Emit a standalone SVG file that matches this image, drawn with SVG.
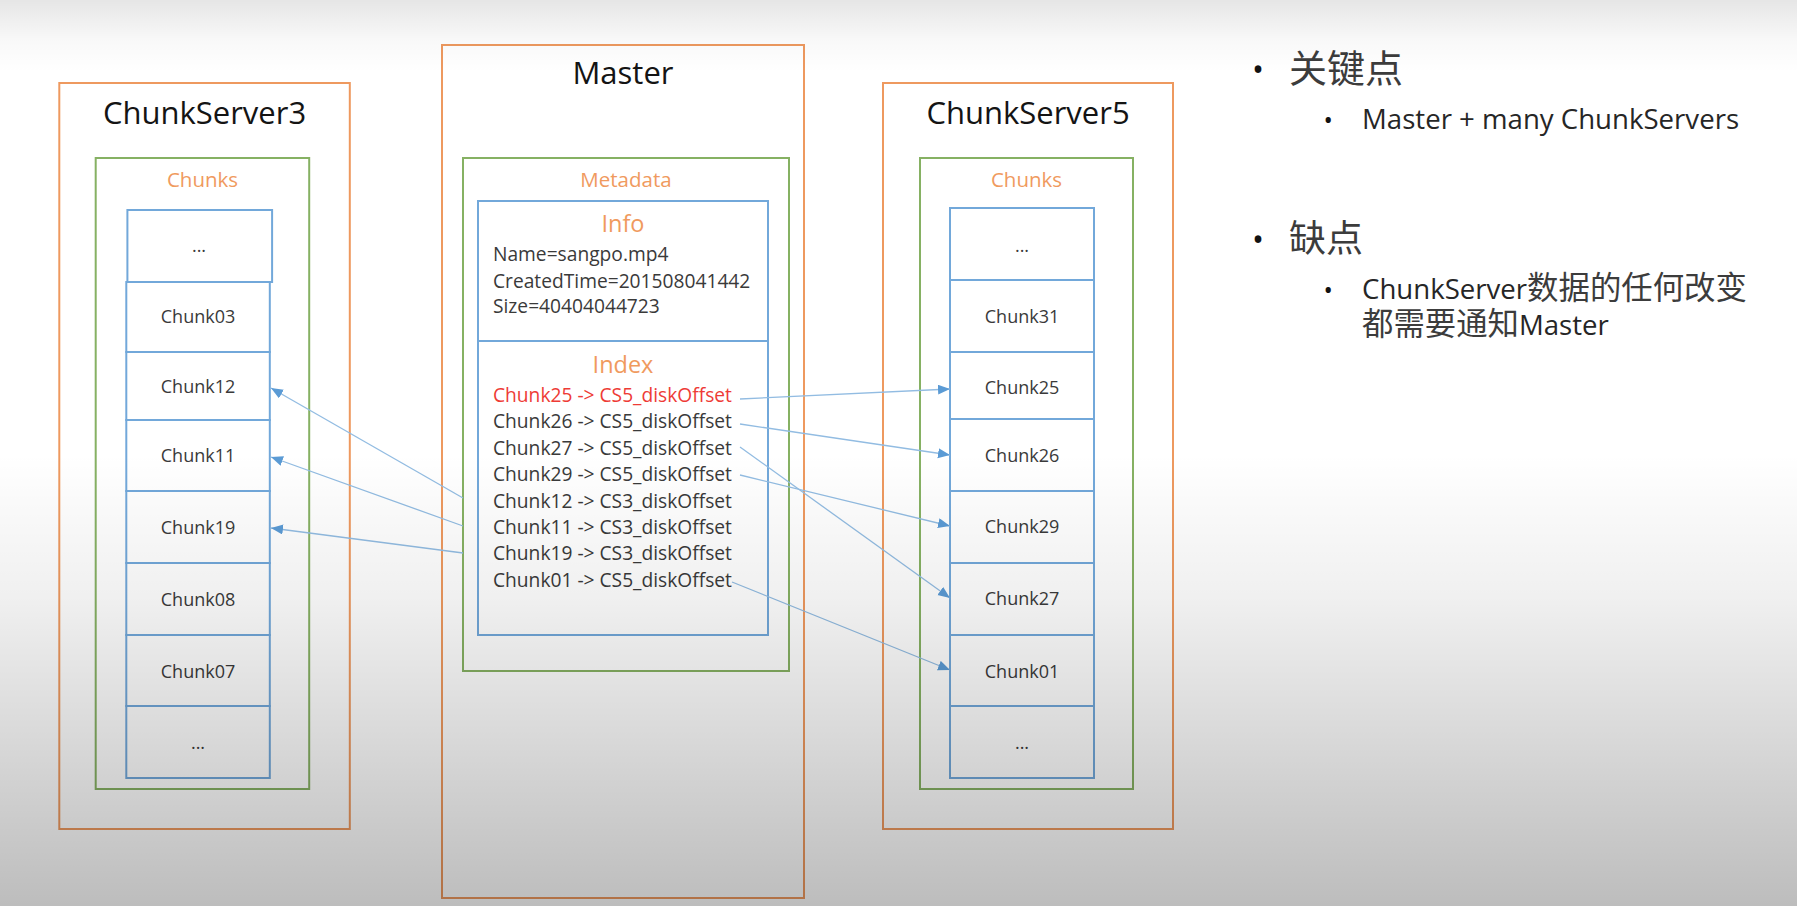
<svg xmlns="http://www.w3.org/2000/svg" width="1797" height="906" viewBox="0 0 1797 906">
<style>
.orange{fill:none;stroke:#EE995F;stroke-width:2}
.green{fill:none;stroke:#86B163;stroke-width:2}
.blue{fill:none;stroke:#72A8DA;stroke-width:2}
.title{font-family:"Open Sans",sans-serif;font-size:31px;fill:#141414;text-anchor:middle}
.sub{font-family:"Open Sans",sans-serif;font-size:20.5px;fill:#F09A5E;text-anchor:middle}
.hd{font-family:"Open Sans",sans-serif;font-size:23.5px;fill:#F09A5E;text-anchor:middle}
.cl{font-family:"Open Sans",sans-serif;font-size:18px;fill:#3A3A3A;text-anchor:middle}
.ix{font-family:"Open Sans",sans-serif;font-size:19.2px;fill:#3A3A3A}
.red{fill:#EE3B36}
.conn{stroke:#92BCE2;stroke-width:1.3;fill:none;marker-end:url(#arr)}
.note{font-family:"Open Sans","Noto Sans CJK SC",sans-serif;fill:#262626}
.cjk{font-family:"Noto Sans CJK SC",sans-serif;fill:#3C3C3C}
.bul{font-family:"Open Sans",sans-serif;fill:#111}
</style>
<defs>
<linearGradient id="shade" x1="0" y1="0" x2="0" y2="906" gradientUnits="userSpaceOnUse">
<stop offset="0" stop-color="#000" stop-opacity="0.10"/>
<stop offset="0.045" stop-color="#000" stop-opacity="0.025"/>
<stop offset="0.08" stop-color="#000" stop-opacity="0"/>
<stop offset="0.5" stop-color="#000" stop-opacity="0"/>
<stop offset="0.66" stop-color="#000" stop-opacity="0.06"/>
<stop offset="0.83" stop-color="#000" stop-opacity="0.16"/>
<stop offset="1" stop-color="#000" stop-opacity="0.26"/>
</linearGradient>
<marker id="arr" markerUnits="userSpaceOnUse" markerWidth="13" markerHeight="11" refX="12" refY="5" orient="auto" viewBox="0 0 13 11">
<path d="M0,0 L12,5 L0,10 z" fill="#5B9BD5"/>
</marker>
</defs>
<rect x="0" y="0" width="1797" height="906" fill="#FFFFFF"/>

<g id="chunkserver3">
<rect class="orange" x="59.3" y="83" width="290.5" height="746"/>
<text class="title" x="204.5" y="124">ChunkServer3</text>
<g id="cs3-chunks">
<rect class="green" x="95.7" y="158" width="213.5" height="631"/>
<text class="sub" x="202.5" y="187">Chunks</text>
<rect class="blue" x="127.4" y="210" width="144.7" height="72"/>
<rect class="blue" x="126.3" y="282" width="143.5" height="70"/>
<rect class="blue" x="126.3" y="352" width="143.5" height="68"/>
<rect class="blue" x="126.3" y="420" width="143.5" height="71"/>
<rect class="blue" x="126.3" y="491" width="143.5" height="72"/>
<rect class="blue" x="126.3" y="563" width="143.5" height="72"/>
<rect class="blue" x="126.3" y="635" width="143.5" height="71"/>
<rect class="blue" x="126.3" y="706" width="143.5" height="72"/>
<text class="cl" x="199" y="252">...</text>
<text class="cl" x="198" y="323">Chunk03</text>
<text class="cl" x="198" y="393">Chunk12</text>
<text class="cl" x="198" y="462">Chunk11</text>
<text class="cl" x="198" y="534">Chunk19</text>
<text class="cl" x="198" y="606">Chunk08</text>
<text class="cl" x="198" y="678">Chunk07</text>
<text class="cl" x="198" y="749">...</text>
</g>
</g>

<g id="master">
<rect class="orange" x="442" y="45" width="362" height="853"/>
<text class="title" x="623" y="84">Master</text>
<g id="metadata">
<rect class="green" x="463" y="158" width="326" height="513"/>
<text class="sub" x="626" y="187">Metadata</text>
<rect class="blue" x="478" y="201" width="290" height="434"/>
<line class="blue" x1="478" y1="341" x2="768" y2="341"/>
<text class="hd" x="623" y="232">Info</text>
<text class="ix" x="493" y="261">Name=sangpo.mp4</text>
<text class="ix" x="493" y="288">CreatedTime=201508041442</text>
<text class="ix" x="493" y="313">Size=40404044723</text>
<text class="hd" x="623" y="373">Index</text>
<text class="ix red" x="493" y="402">Chunk25 -&gt; CS5_diskOffset</text>
<text class="ix" x="493" y="428.4">Chunk26 -&gt; CS5_diskOffset</text>
<text class="ix" x="493" y="454.8">Chunk27 -&gt; CS5_diskOffset</text>
<text class="ix" x="493" y="481.2">Chunk29 -&gt; CS5_diskOffset</text>
<text class="ix" x="493" y="507.6">Chunk12 -&gt; CS3_diskOffset</text>
<text class="ix" x="493" y="534">Chunk11 -&gt; CS3_diskOffset</text>
<text class="ix" x="493" y="560.4">Chunk19 -&gt; CS3_diskOffset</text>
<text class="ix" x="493" y="586.8">Chunk01 -&gt; CS5_diskOffset</text>
</g>
</g>

<g id="chunkserver5">
<rect class="orange" x="883" y="83" width="290" height="746"/>
<text class="title" x="1028" y="123.5">ChunkServer5</text>
<g id="cs5-chunks">
<rect class="green" x="920" y="158" width="213" height="631"/>
<text class="sub" x="1026.5" y="187">Chunks</text>
<rect class="blue" x="950" y="208" width="144" height="72"/>
<rect class="blue" x="950" y="280" width="144" height="72"/>
<rect class="blue" x="950" y="352" width="144" height="67"/>
<rect class="blue" x="950" y="419" width="144" height="72"/>
<rect class="blue" x="950" y="491" width="144" height="72"/>
<rect class="blue" x="950" y="563" width="144" height="72"/>
<rect class="blue" x="950" y="635" width="144" height="71"/>
<rect class="blue" x="950" y="706" width="144" height="72"/>
<text class="cl" x="1022" y="252">...</text>
<text class="cl" x="1022" y="323">Chunk31</text>
<text class="cl" x="1022" y="394">Chunk25</text>
<text class="cl" x="1022" y="462">Chunk26</text>
<text class="cl" x="1022" y="533">Chunk29</text>
<text class="cl" x="1022" y="605">Chunk27</text>
<text class="cl" x="1022" y="678">Chunk01</text>
<text class="cl" x="1022" y="749">...</text>
</g>
</g>

<g id="connectors">
<line class="conn" x1="463" y1="498" x2="271" y2="388"/>
<line class="conn" x1="463" y1="526" x2="271" y2="457"/>
<line class="conn" x1="463" y1="553" x2="271" y2="528"/>
<line class="conn" x1="740" y1="399" x2="950" y2="389"/>
<line class="conn" x1="740" y1="424" x2="950" y2="455"/>
<line class="conn" x1="740" y1="447" x2="950" y2="598"/>
<line class="conn" x1="740" y1="475" x2="950" y2="526"/>
<line class="conn" x1="732" y1="582" x2="950" y2="670"/>
</g>

<g id="notes">
<text x="1252" y="81"><tspan class="bul" x="1252" font-size="32">•</tspan><tspan class="cjk" x="1289" y="82" font-size="38">关键点</tspan></text>
<text class="note" x="1323.5" y="129" font-size="27.6"><tspan class="bul" x="1323.5" font-size="25">•</tspan><tspan x="1362">Master + many ChunkServers</tspan></text>
<text x="1252" y="251"><tspan class="bul" x="1252" font-size="32">•</tspan><tspan class="cjk" x="1289" y="252" font-size="37">缺点</tspan></text>
<text class="note" x="1323.5" y="299" font-size="27.6"><tspan class="bul" x="1323.5" font-size="25">•</tspan><tspan x="1362">ChunkServer</tspan><tspan class="cjk" font-size="31.4">数据的任何改变</tspan></text>
<text class="note" x="1362" y="335" font-size="27.6"><tspan class="cjk" font-size="31.4">都需要通知</tspan>Master</text>
</g>

<rect x="0" y="0" width="1797" height="906" fill="url(#shade)" pointer-events="none"/>
</svg>
